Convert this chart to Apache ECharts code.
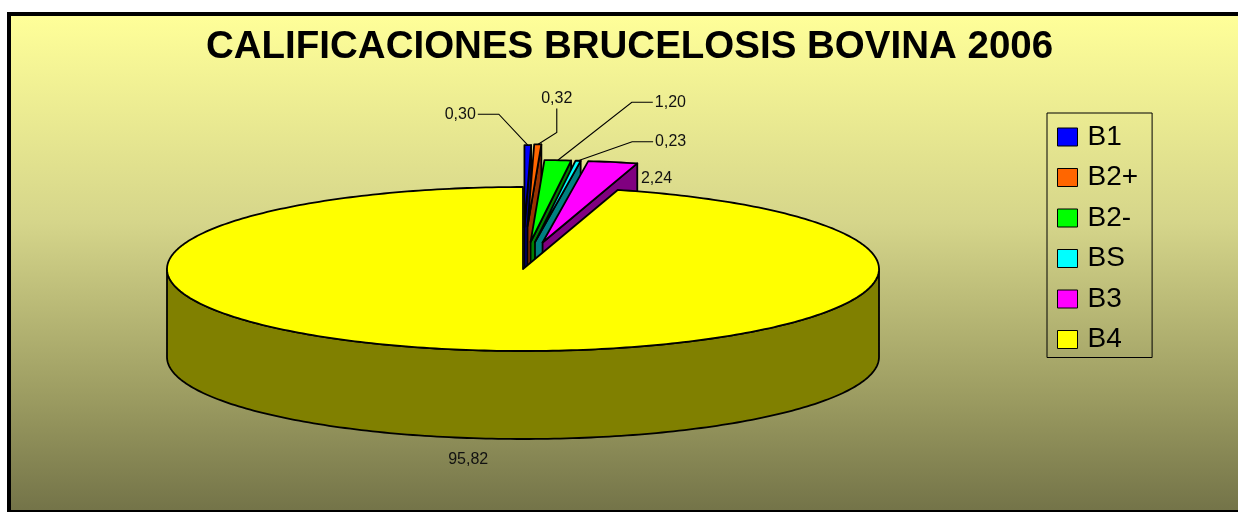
<!DOCTYPE html>
<html lang="es">
  <head>
    <meta charset="utf-8" />
  </head>
  <body style="margin: 0; background: #fff; overflow: hidden">
    <div id="container" style="width: 1238px; height: 512px"></div>

    <script
      type="text/javascript"
      src="https://fastly.jsdelivr.net/npm/echarts@6/dist/echarts.min.js"
    ></script>

    <script type="text/javascript">
      // data (percent of herds per rating)
      var categories = ["B1", "B2+", "B2-", "BS", "B3", "B4"];
      var values = [0.3, 0.32, 1.2, 0.23, 2.24, 95.82];

      var colors = ["#0000ff", "#ff6600", "#00ff00", "#00ffff", "#ff00ff", "#ffff00"];
      var sideColors = ["#000080", "#993300", "#008000", "#008080", "#800080", "#808000"];
      // how far each slice is pulled out of the pie (fraction of radius)
      var explode = [0.51, 0.52, 0.33, 0.33, 0.33, 0];
      // where each value label sits relative to its slice edge
      var labelLayout = [
        { dx: -52, dy: -31, align: "right", leader: "h" },
        { dx: 19, dy: -46, align: "center", leader: "v" },
        { dx: 97, dy: -58, align: "left", leader: "h" },
        { dx: 77, dy: -19, align: "left", leader: "h" },
        { dx: 28, dy: 17, align: "left", leader: null },
        { dx: -7, dy: 21, align: "center", leader: null },
      ];

      var pie = { cx: 523, cy: 269, rx: 356, ry: 82, depth: 88, ex: 300 };

      var total = values.reduce(function (a, b) {
        return a + b;
      }, 0);
      var angles = [];
      var acc = 0;
      values.forEach(function (v) {
        var a0 = (acc / total) * 2 * Math.PI;
        acc += v;
        angles.push([a0, (acc / total) * 2 * Math.PI]);
      });

      function pt(a, ox, oy, dz) {
        return [
          pie.cx + ox + pie.rx * Math.sin(a),
          pie.cy + oy - pie.ry * Math.cos(a) + dz,
        ];
      }
      function arc(a0, a1, ox, oy, dz) {
        var n = Math.max(2, Math.ceil((a1 - a0) / (Math.PI / 180)));
        var pts = [];
        for (var k = 0; k <= n; k++) {
          pts.push(pt(a0 + ((a1 - a0) * k) / n, ox, oy, dz));
        }
        return pts;
      }
      function poly(points, fill) {
        return {
          type: "polygon",
          shape: { points: points },
          style: { fill: fill, stroke: "#000", lineWidth: 1.8, lineJoin: "round" },
        };
      }

      function renderSlice(i) {
        return function (params, api) {
          var a0 = angles[i][0],
            a1 = angles[i][1],
            mid = (a0 + a1) / 2;
          var ox = explode[i] * pie.ex * Math.sin(mid);
          var oy = -explode[i] * pie.ry * Math.cos(mid);
          var c = [pie.cx + ox, pie.cy + oy];
          var cb = [c[0], c[1] + pie.depth];
          var side = sideColors[i];
          var children = [];

          // cut faces that look toward the viewer
          if (Math.sin(a1) > 1e-6) {
            children.push(poly([c, pt(a1, ox, oy, 0), pt(a1, ox, oy, pie.depth), cb], side));
          }
          if (Math.sin(a0) < -1e-6) {
            children.push(poly([c, pt(a0, ox, oy, 0), pt(a0, ox, oy, pie.depth), cb], side));
          }
          // front part of the rim
          var b0 = Math.max(a0, Math.PI / 2),
            b1 = Math.min(a1, 1.5 * Math.PI);
          if (b1 > b0) {
            var up = arc(b0, b1, ox, oy, 0);
            var dn = arc(b0, b1, ox, oy, pie.depth).reverse();
            children.push(poly(up.concat(dn), side));
          }
          // top face
          children.push(poly([c].concat(arc(a0, a1, ox, oy, 0)), api.visual("color")));

          // value label
          var lay = labelLayout[i];
          var anchor = Math.cos(mid) >= 0 ? pt(mid, ox, oy, 0) : pt(mid, ox, oy, pie.depth);
          var tx = anchor[0] + lay.dx,
            ty = anchor[1] + lay.dy;
          if (lay.leader === "h") {
            var s = lay.align === "right" ? 1 : -1;
            children.push({
              type: "polyline",
              shape: { points: [anchor, [tx + s * 23, ty], [tx + s * 2, ty]] },
              style: { stroke: "#000", lineWidth: 1.1, fill: null },
            });
          } else if (lay.leader === "v") {
            children.push({
              type: "polyline",
              shape: { points: [anchor, [tx, ty + 34], [tx, ty + 10]] },
              style: { stroke: "#000", lineWidth: 1.1, fill: null },
            });
          }
          children.push({
            type: "text",
            x: tx,
            y: ty,
            style: {
              text: values[i].toFixed(2).replace(".", ","),
              fill: "#111",
              font: '16px Arial, "Liberation Sans", sans-serif',
              align: lay.align,
              verticalAlign: "middle",
              textAlign: lay.align,
              textVerticalAlign: "middle",
            },
          });
          return { type: "group", children: children };
        };
      }

      var dom = document.getElementById("container");
      var myChart = echarts.init(dom, null, { renderer: "canvas" });

      var frame = { stroke: "#000", lineWidth: 4 };
      var option = {
        animation: false,
        title: {
          text: "CALIFICACIONES BRUCELOSIS BOVINA 2006",
          left: 206,
          top: 28,
          padding: 0,
          textStyle: {
            fontSize: 38.5,
            fontWeight: "bold",
            fontFamily: 'Arial, "Liberation Sans", sans-serif',
            color: "#000",
          },
        },
        legend: {
          orient: "vertical",
          left: 1047,
          top: 113,
          data: categories,
          icon: "rect",
          itemWidth: 20,
          itemHeight: 18,
          itemGap: 12.5,
          padding: [10, 14, 4, 10],
          borderColor: "#000",
          borderWidth: 1,
          selectedMode: false,
          itemStyle: { borderColor: "#000", borderWidth: 1 },
          textStyle: {
            fontSize: 28,
            lineHeight: 28,
            fontFamily: 'Arial, "Liberation Sans", sans-serif',
            color: "#000",
            padding: [0, 0, 0, 5],
          },
        },
        graphic: [
          {
            type: "rect",
            z: -10,
            silent: true,
            shape: { x: 9, y: 14, width: 1229, height: 498 },
            style: {
              fill: {
                type: "linear",
                x: 0,
                y: 0,
                x2: 0,
                y2: 1,
                colorStops: [
                  { offset: 0, color: "#ffff99" },
                  { offset: 0.42, color: "#d5d58a" },
                  { offset: 0.78, color: "#9a9a60" },
                  { offset: 1, color: "#737348" },
                ],
              },
            },
          },
          { type: "line", z: -9, silent: true, shape: { x1: 9, y1: 12, x2: 9, y2: 512 }, style: frame },
          { type: "line", z: -9, silent: true, shape: { x1: 7, y1: 14, x2: 1238, y2: 14 }, style: frame },
          { type: "line", z: -9, silent: true, shape: { x1: 7, y1: 512, x2: 1238, y2: 512 }, style: frame },
        ],
        series: categories.map(function (name, i) {
          return {
            type: "custom",
            name: name,
            coordinateSystem: "none",
            itemStyle: { color: colors[i] },
            data: [values[i]],
            renderItem: renderSlice(i),
          };
        }),
      };

      myChart.setOption(option);
      window.addEventListener("resize", myChart.resize);
    </script>
  </body>
</html>
